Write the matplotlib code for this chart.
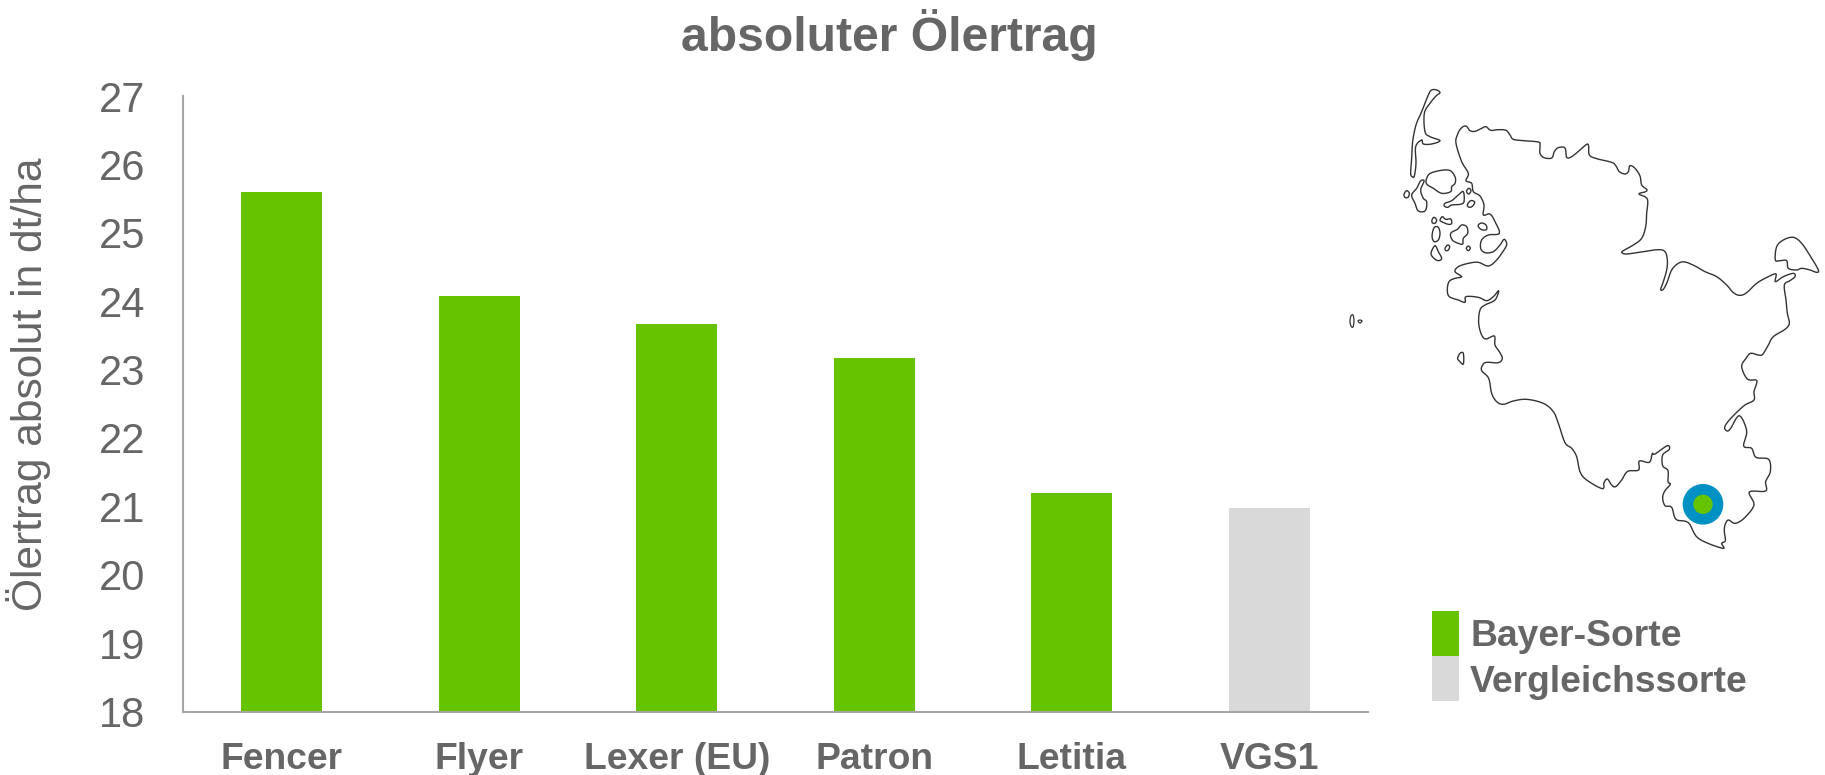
import matplotlib
matplotlib.use('Agg')
import numpy as np
import matplotlib.pyplot as plt
from matplotlib.patches import Rectangle, Circle

plt.rcParams['font.family'] = ['Liberation Sans', 'DejaVu Sans']

sorten = ['Fencer', 'Flyer', 'Lexer (EU)', 'Patron', 'Letitia', 'VGS1']
ertrag = [25.59, 24.07, 23.67, 23.17, 21.19, 20.97]
y_ticks = [18, 19, 20, 21, 22, 23, 24, 25, 26, 27]
legende = ['Bayer-Sorte', 'Vergleichssorte']

GRUEN = '#66C300'
GRAU = '#D9D9D9'
BLAU = '#0091C4'
TEXT = '#666666'
ACHSE = '#A6A6A6'

# Umriss Schleswig-Holstein, abgelesen aus Ausschnitten (Faktor 3)
# oben: Ursprung (1380, 70), unten: Ursprung (1380, 300)
umriss_oben = [(228,220),(232,195),(243,175),(258,168),(270,182),(285,184),(305,175),(318,170),(332,181),(355,179),(378,181),(390,195),(400,208),(430,212),(475,216),(480,225),(480,250),(492,263),(515,264),(523,245),(535,233),(555,234),(560,262),(575,260),(600,240),(620,223),(626,228),(628,255),(650,266),(695,277),(708,288),(718,305),(735,312),(745,305),(750,287),(765,295),(780,318),(785,345),(800,358),(797,365),(777,372),(802,387),(800,430),(797,470),(785,505),(760,525),(730,542),(726,548),(740,552),(790,545),(835,539),(855,545),(862,570),(860,600),(850,635),(842,658),(850,658),(862,635),(875,600),(895,580),(915,576),(945,588),(975,605),(1010,620),(1040,645),(1060,668),(1080,676),(1100,668),(1130,640),(1165,620),(1188,612),(1186,635),(1210,620),(1240,610),(1245,620),(1230,632),(1213,645),(1218,690)]
umriss_unten = [(1222,40),(1228,70),(1215,88),(1180,110),(1165,135),(1148,163),(1135,165),(1112,160),(1098,175),(1085,200),(1102,237),(1128,240),(1130,250),(1122,275),(1122,300),(1095,315),(1065,342),(1040,370),(1034,385),(1042,393),(1052,385),(1078,347),(1100,393),(1091,438),(1115,445),(1128,472),(1166,478),(1171,515),(1157,545),(1157,573),(1108,576),(1122,615),(1092,655),(1065,670),(1045,660),(1035,675),(1033,695),(1036,722),(1025,730),(1028,745),(955,715),(925,668),(888,658),(875,622),(855,617),(848,593),(855,572),(871,553),(864,545),(864,512),(848,497),(848,465),(868,448),(862,437),(825,462),(817,461),(808,487),(778,483),(776,510),(743,514),(725,540),(707,560),(695,555),(682,537),(672,548),(667,566),(620,540),(600,515),(590,470),(575,445),(555,428),(535,370),(520,335),(490,310),(440,298),(400,303),(370,313),(350,305),(335,280),(326,235),(305,212),(308,195),(320,187),(355,188),(367,175),(358,155),(345,135),(343,108),(318,117),(305,105),(296,70),(300,30),(315,15)]
umriss_west = [(345,690),(356,662),(340,680),(320,692),(295,682),(258,680),(255,697),(235,690),(208,680),(202,660),(207,635),(225,625),(245,620),(225,605),(235,590),(265,580),(295,577),(325,588),(350,570),(375,535),(380,520),(372,508),(360,525),(340,545),(315,548),(302,535),(305,510),(325,495),(358,490),(345,455),(330,432),(310,435),(312,405),(300,378),(280,365),(275,340),(258,332),(265,310),(245,275),(228,220)]

inseln = [
    [(92,310),(97,320),(103,318),(108,280),(107,230),(125,210),(130,222),(155,222),(180,212),(150,200),(135,185),(133,130),(150,100),(168,78),(180,68),(170,60),(155,60),(145,75),(125,125),(108,165),(98,215),(95,265)],
    [(140,325),(155,308),(205,300),(225,320),(225,340),(215,350),(212,365),(185,370),(160,355),(140,342)],
    [(128,330),(132,335),(122,360),(130,385),(140,395),(136,422),(115,423),(105,400),(95,375),(110,355),(120,335)],
    [(72,373),(80,362),(88,370),(84,382),(75,382)],
    [(195,400),(215,392),(235,375),(250,365),(252,395),(240,403),(215,405),(203,412),(193,408)],
    [(260,362),(267,355),(273,362),(267,372),(261,368)],
    [(262,405),(272,392),(284,396),(278,408),(268,412)],
    [(156,450),(162,442),(170,450),(165,460),(157,458)],
    [(180,450),(187,440),(197,448),(212,447),(215,460),(205,463),(185,455)],
    [(157,490),(163,472),(175,472),(180,490),(175,510),(163,515),(157,505)],
    [(212,490),(232,478),(245,465),(260,470),(263,490),(250,505),(248,522),(235,520),(217,510)],
    [(295,465),(305,459),(318,465),(320,478),(308,480),(297,473)],
    [(195,535),(203,525),(209,530),(205,540),(198,542)],
    [(259,535),(265,528),(271,535),(265,542)],
    [(153,550),(165,527),(175,545),(185,565),(175,572),(162,565)],
    [(233,865),(240,850),(250,850),(250,882),(238,873)],
    # Fehmarn
    [(1186,570),(1190,530),(1210,510),(1240,502),(1265,520),(1295,565),(1315,600),(1310,607),(1290,600),(1265,595),(1250,600),(1225,595),(1220,572),(1200,572)],
]
# Helgoland, in Bildpixeln
helgoland = [[(1351,316),(1353,315),(1354,321),(1353,327),(1351,326),(1350,321)],
             [(1358,321),(1360,320),(1362,321),(1360,323)]]


def smooth(pts, closed=False, n=6):
    # Catmull-Rom, damit der Umriss nicht eckig aussieht
    p = np.array(pts, dtype=float)
    if closed:
        p = np.vstack([p[-1], p, p[0], p[1]])
    else:
        p = np.vstack([p[0], p, p[-1]])
    out = []
    for i in range(1, len(p)-2):
        for t in np.linspace(0, 1, n, endpoint=False):
            out.append(0.5*((2*p[i]) + (p[i+1]-p[i-1])*t
                            + (2*p[i-1]-5*p[i]+4*p[i+1]-p[i+2])*t**2
                            + (3*p[i]-p[i-1]-3*p[i+1]+p[i+2])*t**3))
    out.append(p[-2])
    return np.array(out)


def zu_pixel(pts):
    return [(1380+x/3, 70+y/3) for x, y in pts]


fig = plt.figure(figsize=(18.25, 7.75), dpi=100)
W, H = 1825.0, 775.0
L, R, T, B = 183.0, 1368.0, 96.0, 711.5
ax = fig.add_axes([L/W, 1-B/H, (R-L)/W, (B-T)/H])
farben = [GRUEN]*5 + [GRAU]
ax.bar(range(len(sorten)), ertrag, width=0.41, color=farben, zorder=2)
ax.set_xlim(-0.5, 5.5)
ax.set_ylim(18, 27)
ax.set_yticks(y_ticks)
ax.set_xticks(range(len(sorten)))
ax.set_xticklabels(sorten, fontsize=26.8, fontweight='bold', color=TEXT)
ax.tick_params(axis='y', length=0, labelsize=30, labelcolor=TEXT, pad=27)
ax.tick_params(axis='x', length=0, pad=22)
ax.spines['top'].set_visible(False)
ax.spines['right'].set_visible(False)
for s in ['left', 'bottom']:
    ax.spines[s].set_color(ACHSE)
    ax.spines[s].set_linewidth(1.5)
    ax.spines[s].set_zorder(3)

fig.text(29/W, 1-384/H, 'Ölertrag absolut in dt/ha', fontsize=30.6, color=TEXT,
         rotation=90, ha='center', va='center')
fig.text(889/W, 1-35/H, 'absoluter Ölertrag', fontsize=34.6, fontweight='bold',
         color=TEXT, ha='center', va='center')

# Overlay in Bildpixeln fuer Karte und Legende
ov = fig.add_axes([0, 0, 1, 1], facecolor='none')
ov.set_xlim(0, W)
ov.set_ylim(H, 0)
ov.axis('off')

haupt = umriss_oben + [(x, y+690) for x, y in umriss_unten] + umriss_west[:-1]
xy = smooth(zu_pixel(haupt), closed=True)
ov.fill(xy[:, 0], xy[:, 1], fc='white', ec='#333333', lw=1.0, zorder=1)
for insel in inseln:
    xy = smooth(zu_pixel(insel), closed=True)
    ov.fill(xy[:, 0], xy[:, 1], fc='white', ec='#333333', lw=1.0, zorder=1)
for insel in helgoland:
    xy = smooth(insel, closed=True)
    ov.fill(xy[:, 0], xy[:, 1], fc='white', ec='#333333', lw=0.9, zorder=1)

ov.add_patch(Circle((1703, 504.3), 20.3, fc=BLAU, ec='none', zorder=2))
ov.add_patch(Circle((1703, 504.3), 9.7, fc=GRUEN, ec='none', zorder=3))

ov.add_patch(Rectangle((1432, 611), 27, 45, fc=GRUEN, ec='none'))
ov.add_patch(Rectangle((1432, 656), 27, 45, fc=GRAU, ec='none'))
ov.text(1471, 633, legende[0], fontsize=26.8, fontweight='bold', color=TEXT, va='center_baseline')
ov.text(1470, 678, legende[1], fontsize=26.8, fontweight='bold', color=TEXT, va='center_baseline')

fig.savefig('out.png', dpi=100)
